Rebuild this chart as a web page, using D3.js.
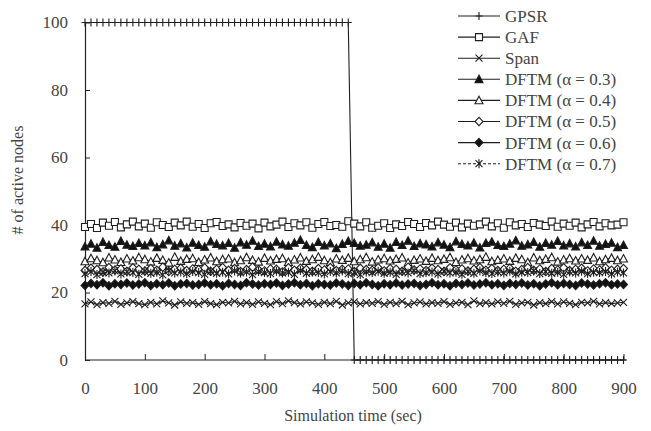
<!DOCTYPE html>
<html>
<head>
<meta charset="utf-8">
<script src="https://cdn.jsdelivr.net/npm/d3@7/dist/d3.min.js"></script>
<style>
  html, body { margin: 0; padding: 0; background: #fff; }
  svg { display: block; }
  text { font-family: "Liberation Serif", "Times New Roman", serif; fill: #444; }
</style>
</head>
<body>
<svg id="chart" width="651" height="431"></svg>
<script>
// ---- Data ----
const times = [0,10,20,30,40,50,60,70,80,90,100,110,120,130,140,150,160,170,180,190,
  200,210,220,230,240,250,260,270,280,290,300,310,320,330,340,350,360,370,380,390,
  400,410,420,430,440,450,460,470,480,490,500,510,520,530,540,550,560,570,580,590,
  600,610,620,630,640,650,660,670,680,690,700,710,720,730,740,750,760,770,780,790,
  800,810,820,830,840,850,860,870,880,890,900];

const xTicks = [0,100,200,300,400,500,600,700,800,900];
const yTicks = [0,20,40,60,80,100];

const gpsr = [100,100,100,100,100,100,100,100,100,100,100,100,100,100,100,100,100,100,100,100,
  100,100,100,100,100,100,100,100,100,100,100,100,100,100,100,100,100,100,100,100,
  100,100,100,100,100,0,0,0,0,0,0,0,0,0,0,0,0,0,0,0,
  0,0,0,0,0,0,0,0,0,0,0,0,0,0,0,0,0,0,0,0,
  0,0,0,0,0,0,0,0,0,0,0];

const gaf = [39.4,40.3,39.1,40.7,39.8,40.9,39.3,40.2,41.0,39.6,
  40.4,39.2,40.8,40.0,39.4,40.7,39.9,41.0,39.5,40.3,
  39.1,40.5,40.9,39.7,40.2,39.3,40.6,39.8,40.4,39.0,
  40.7,39.6,40.1,41.0,39.4,40.5,39.9,40.8,39.2,40.3,
  40.9,39.7,40.0,39.5,41.1,40.4,39.6,40.8,39.2,39.8,
  40.5,39.1,40.2,39.7,40.9,40.3,39.4,40.6,39.9,41.0,
  40.1,39.5,40.7,39.3,40.4,39.8,40.2,41.0,39.6,40.5,
  39.2,40.8,39.9,40.3,39.4,40.6,40.1,39.7,41.0,39.5,
  40.4,39.8,40.7,39.3,40.2,40.9,39.6,40.5,39.9,40.1,
  40.8];

const span = [16.6,17.2,16.4,17.0,16.8,17.4,16.5,16.9,17.3,16.7,
  16.4,17.1,16.6,17.5,16.9,16.3,17.2,16.8,17.0,16.5,
  17.3,16.7,16.4,17.1,16.9,17.4,16.6,17.0,16.5,17.2,
  16.8,16.4,17.3,16.7,17.5,17.0,16.6,17.2,16.9,16.5,
  17.1,16.7,17.4,16.3,16.9,17.2,16.6,17.0,16.8,17.3,
  16.5,17.1,16.7,17.4,16.4,16.9,17.2,16.6,17.0,16.8,
  17.3,16.5,16.9,17.1,16.4,17.5,16.7,17.0,16.6,17.2,
  16.8,17.4,16.5,16.9,17.1,16.3,17.0,16.7,17.3,16.6,
  17.2,16.8,16.4,17.1,16.9,17.4,16.6,17.0,16.7,16.9,
  17.1];

const dftm03 = [33.6,34.4,33.2,34.9,34.0,33.5,35.2,34.1,33.7,34.6,
  33.9,34.8,33.4,34.2,35.4,33.8,34.5,33.3,34.7,34.0,
  33.5,35.1,34.3,33.9,34.6,33.2,34.8,34.1,35.3,33.7,
  34.4,33.6,35.0,34.2,33.8,34.7,35.5,34.0,33.4,34.9,
  33.9,34.5,33.1,34.3,35.2,34.6,33.8,34.1,34.8,33.5,
  34.4,33.2,34.9,34.0,35.3,33.7,34.5,34.2,33.6,34.8,
  34.1,33.4,35.1,34.3,33.9,34.7,33.3,34.6,35.0,34.0,
  33.7,34.4,35.4,33.8,34.2,34.9,33.5,34.6,34.1,35.2,
  33.9,34.5,33.6,34.8,34.0,35.3,33.8,34.3,34.7,33.4,
  34.0];

const dftm04 = [29.2,30.1,29.5,28.9,30.3,29.7,29.0,30.0,29.4,30.4,
  29.8,29.1,30.2,29.6,28.8,30.5,29.3,29.9,30.1,29.0,
  29.7,30.3,29.2,29.8,30.0,28.9,29.5,30.4,29.6,29.1,
  30.2,29.4,29.9,30.1,29.0,29.7,30.3,29.3,29.8,30.5,
  29.5,28.9,30.0,29.6,30.2,29.2,29.8,30.4,29.1,29.7,
  30.1,29.4,29.9,30.3,28.8,29.6,30.0,29.3,30.2,29.5,
  29.9,30.4,29.0,29.7,30.1,29.4,29.8,30.5,29.2,29.6,
  30.0,29.3,30.2,29.8,28.9,30.3,29.5,29.9,30.4,29.1,
  29.7,30.1,29.4,30.0,29.6,30.3,29.2,29.8,30.2,29.5,
  30.0];

const dftm05 = [26.5,27.2,26.8,26.1,27.4,26.7,27.0,26.3,27.3,26.9,
  26.4,27.1,26.6,27.5,26.2,26.9,27.2,26.5,27.0,26.8,
  27.3,26.3,26.9,27.4,26.6,27.1,26.2,26.8,27.5,26.7,
  26.4,27.0,26.9,26.1,27.3,26.6,27.2,26.8,26.3,27.1,
  26.7,27.4,26.5,26.9,27.0,26.2,27.2,26.8,26.6,27.3,
  26.4,27.1,26.9,26.3,27.5,26.7,27.0,26.5,27.2,26.8,
  26.2,27.3,26.7,27.0,26.4,26.9,27.4,26.6,27.1,26.5,
  26.9,27.2,26.3,26.8,27.4,26.6,27.0,26.2,27.1,26.7,
  27.3,26.5,26.9,27.2,26.4,27.0,26.7,27.3,26.6,26.9,
  27.1];

const dftm06 = [22.1,22.7,22.3,22.9,22.0,22.6,22.4,22.8,22.2,22.5,
  22.9,22.1,22.6,22.3,22.8,22.0,22.5,22.7,22.2,22.4,
  22.8,22.3,22.6,22.0,22.7,22.4,22.1,22.9,22.5,22.2,
  22.6,22.4,22.8,22.1,22.5,22.9,22.3,22.7,22.0,22.6,
  22.4,22.2,22.8,22.5,22.1,22.7,22.3,22.9,22.4,22.0,
  22.6,22.3,22.8,22.2,22.5,22.7,22.1,22.4,22.9,22.3,
  22.6,22.0,22.7,22.4,22.8,22.2,22.5,22.9,22.3,22.6,
  22.1,22.7,22.4,22.8,22.2,22.6,22.0,22.5,22.9,22.3,
  22.7,22.4,22.1,22.8,22.5,22.2,22.6,22.9,22.3,22.5,
  22.4];

const dftm07 = [25.6,26.2,25.3,26.0,25.8,26.4,25.5,26.1,25.9,25.4,
  26.3,25.7,26.0,25.2,26.5,25.8,26.1,25.6,26.2,25.9,
  25.4,26.3,25.7,26.0,25.5,26.4,25.8,26.1,25.3,26.2,
  25.9,25.6,26.3,25.8,26.0,25.4,26.5,25.7,26.1,25.9,
  25.5,26.2,25.8,26.4,25.6,26.0,25.3,26.1,25.9,26.3,
  25.7,26.0,25.4,26.2,25.8,26.5,25.6,25.9,26.1,25.5,
  26.3,25.8,26.0,25.4,26.2,25.7,26.4,25.9,25.6,26.1,
  25.8,26.3,25.5,26.0,25.9,26.4,25.6,26.2,25.7,26.0,
  25.4,26.1,25.8,26.3,25.6,26.0,25.9,26.2,25.5,26.1,
  25.8];

const seriesNames = ["GPSR", "GAF", "Span", "DFTM (\u03b1 = 0.3)", "DFTM (\u03b1 = 0.4)",
  "DFTM (\u03b1 = 0.5)", "DFTM (\u03b1 = 0.6)", "DFTM (\u03b1 = 0.7)"];
const seriesValues = [gpsr, gaf, span, dftm03, dftm04, dftm05, dftm06, dftm07];

// ---- Styles ----
const markerPaths = {
  plus: "M0,-4V4M-3.5,0H3.5",
  square: "M-3.5,-3.5H3.5V3.5H-3.5Z",
  cross: "M-3.5,-3.5L3.5,3.5M-3.5,3.5L3.5,-3.5",
  triangle: "M0,-4.2L4,3.3L-4,3.3Z",
  diamond: "M0,-4.2L4,0L0,4.2L-4,0Z",
  asterisk: "M-3.5,-3.5L3.5,3.5M-3.5,3.5L3.5,-3.5M0,-4.5V4.5"
};
const styles = [
  {marker: "plus", fill: "none", dash: null},
  {marker: "square", fill: "#fff", dash: null},
  {marker: "cross", fill: "none", dash: null},
  {marker: "triangle", fill: "#111", dash: null},
  {marker: "triangle", fill: "#fff", dash: null},
  {marker: "diamond", fill: "#fff", dash: null},
  {marker: "diamond", fill: "#111", dash: null},
  {marker: "asterisk", fill: "none", dash: "3,2"}
];
const ink = "#1e1e1e";

// ---- Chart ----
const svg = d3.select("#chart");
const x = d3.scaleLinear().domain([0, 900]).range([85, 623.5]);
const y = d3.scaleLinear().domain([0, 100]).range([360, 22.5]);

// axes
const xAxis = svg.append("g").attr("transform", "translate(0,360)")
  .call(d3.axisBottom(x).tickValues(xTicks).tickSizeInner(-6).tickSizeOuter(0).tickPadding(22));
const yAxis = svg.append("g").attr("transform", "translate(85,0)")
  .call(d3.axisLeft(y).tickValues(yTicks).tickSizeInner(-5).tickSizeOuter(0).tickPadding(17));
[xAxis, yAxis].forEach(g => {
  g.selectAll("path.domain").attr("stroke", "#222").attr("stroke-width", 1.2);
  g.selectAll(".tick line").attr("stroke", "#222");
  g.selectAll(".tick text").style("font-family", '"Liberation Serif", serif')
    .style("font-size", "17px").attr("fill", "#444");
});
xAxis.select("path.domain").attr("d", "M85,0H626");

// series
const line = d3.line().x((d, i) => x(times[i])).y(d => y(d));
seriesValues.forEach((vals, k) => {
  const st = styles[k];
  const g = svg.append("g");
  g.append("path").datum(vals).attr("d", line)
    .attr("fill", "none").attr("stroke", ink).attr("stroke-width", 1.1)
    .attr("stroke-dasharray", st.dash);
  g.selectAll("path.m").data(vals).join("path").attr("class", "m")
    .attr("transform", (d, i) => `translate(${x(times[i])},${y(d)})`)
    .attr("d", markerPaths[st.marker])
    .attr("fill", st.fill).attr("stroke", ink).attr("stroke-width", 1.1);
});

// axis titles
svg.append("text").attr("x", 353).attr("y", 421).attr("text-anchor", "middle")
  .style("font-size", "16px").text("Simulation time (sec)");
svg.append("text").attr("transform", "translate(23,180) rotate(-90)").attr("text-anchor", "middle")
  .style("font-size", "16px").text("# of active nodes");

// legend
const leg = svg.append("g");
seriesNames.forEach((name, k) => {
  const st = styles[k];
  const cy = 16 + k * 21.1;
  leg.append("line").attr("x1", 458).attr("x2", 500).attr("y1", cy).attr("y2", cy)
    .attr("stroke", ink).attr("stroke-width", 1.1).attr("stroke-dasharray", st.dash);
  leg.append("path").attr("transform", `translate(479,${cy})`).attr("d", markerPaths[st.marker])
    .attr("fill", st.fill).attr("stroke", ink).attr("stroke-width", 1.1);
  leg.append("text").attr("x", 505).attr("y", cy).attr("dy", "0.35em")
    .style("font-size", "17px").text(name);
});
</script>
</body>
</html>
